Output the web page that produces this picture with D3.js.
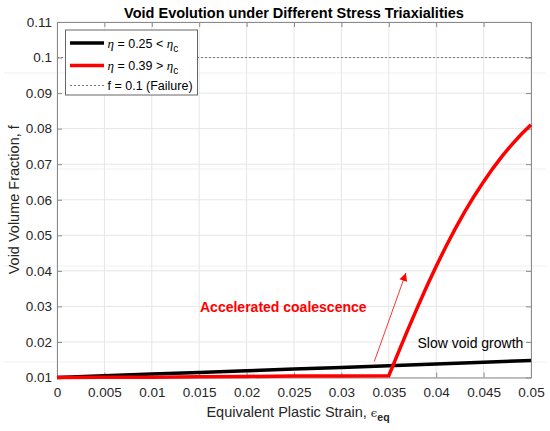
<!DOCTYPE html>
<html>
<head>
<meta charset="utf-8">
<script src="https://cdn.jsdelivr.net/npm/d3@7"></script>
<style>
  body { margin: 0; background: #fff; }
  svg { display: block; font-family: "Liberation Sans", Arial, sans-serif; }
</style>
</head>
<body>
<svg id="chart" width="550" height="431"></svg>
<script>
// data
var strainBlack = [0, 0.005, 0.01, 0.015, 0.02, 0.025, 0.03, 0.035, 0.04, 0.045, 0.05];
var fBlack      = [0.0100, 0.0105, 0.0110, 0.0114, 0.0119, 0.0124, 0.0128, 0.0133, 0.0138, 0.0143, 0.0148];

var strainRed = [0, 0.005, 0.01, 0.015, 0.02, 0.025, 0.03, 0.035,
                 0.036, 0.037, 0.038, 0.039, 0.040, 0.041, 0.042, 0.043,
                 0.044, 0.045, 0.046, 0.047, 0.048, 0.049, 0.050];
var fRed      = [0.0100, 0.0101, 0.0101, 0.0102, 0.0103, 0.0104, 0.0104, 0.0105,
                 0.0170, 0.0234, 0.0296, 0.0356, 0.0413, 0.0467, 0.0518, 0.0566,
                 0.0610, 0.0651, 0.0689, 0.0724, 0.0756, 0.0785, 0.0811];

var failureF = 0.1;

var xTicks = [0, 0.005, 0.01, 0.015, 0.02, 0.025, 0.03, 0.035, 0.04, 0.045, 0.05];
var xTickLabels = ["0", "0.005", "0.01", "0.015", "0.02", "0.025", "0.03", "0.035", "0.04", "0.045", "0.05"];
var yTicks = [0.01, 0.02, 0.03, 0.04, 0.05, 0.06, 0.07, 0.08, 0.09, 0.1, 0.11];
var yTickLabels = ["0.01", "0.02", "0.03", "0.04", "0.05", "0.06", "0.07", "0.08", "0.09", "0.1", "0.11"];

// arrow from / to, in data units
var arrowFrom = [0.03347, 0.0145];
var arrowTo   = [0.03681, 0.0394];

var svg = d3.select("#chart"),
    W = 550, H = 431,
    m = {left: 57, right: 19, top: 22, bottom: 53.5},
    w = W - m.left - m.right,
    h = H - m.top - m.bottom;

// faint stray lines seen across the figure
[73, 169, 266, 362].forEach(function(yy){
    svg.append("line").attr("x1", 4).attr("x2", 546).attr("y1", yy).attr("y2", yy)
        .attr("stroke", "#f0f0f0").attr("stroke-width", 1);
});

var g = svg.append("g").attr("transform", "translate(" + m.left + "," + m.top + ")");

var x = d3.scaleLinear().domain([0, 0.05]).range([0, w]);
var y = d3.scaleLinear().domain([0.01, 0.11]).range([h, 0]);

// grid
g.append("g").selectAll("line").data(xTicks).enter().append("line")
    .attr("x1", function(d){ return x(d); }).attr("x2", function(d){ return x(d); })
    .attr("y1", 0).attr("y2", h)
    .attr("stroke", "#e6e6e6").attr("stroke-width", 1);
g.append("g").selectAll("line").data(yTicks).enter().append("line")
    .attr("y1", function(d){ return y(d); }).attr("y2", function(d){ return y(d); })
    .attr("x1", 0).attr("x2", w)
    .attr("stroke", "#e6e6e6").attr("stroke-width", 1);

// failure line
g.append("line")
    .attr("x1", x(0)).attr("x2", x(0.05))
    .attr("y1", y(failureF)).attr("y2", y(failureF))
    .attr("stroke", "#7a7a7a").attr("stroke-width", 1).attr("stroke-dasharray", "2,2");

// axes (ticks pointing inward, box on all sides)
function styleAxis(sel){
    sel.select(".domain").attr("stroke", "#8a8a8a").attr("stroke-width", 1);
    sel.selectAll(".tick line").attr("stroke", "#8a8a8a");
    sel.selectAll(".tick text").attr("fill", "#262626").style("font-size", "13.5px");
}
g.append("g").attr("transform", "translate(0," + h + ")")
    .call(d3.axisBottom(x).tickValues(xTicks).tickSizeInner(-5).tickSizeOuter(0).tickPadding(10)
        .tickFormat(function(d, i){ return xTickLabels[i]; }))
    .call(styleAxis);
g.append("g")
    .call(d3.axisLeft(y).tickValues(yTicks).tickSizeInner(-5).tickSizeOuter(0).tickPadding(5)
        .tickFormat(function(d, i){ return yTickLabels[i]; }))
    .call(styleAxis);
g.append("g")
    .call(d3.axisTop(x).tickValues(xTicks).tickSizeInner(-5).tickSizeOuter(0).tickFormat(""))
    .call(styleAxis);
g.append("g").attr("transform", "translate(" + w + ",0)")
    .call(d3.axisRight(y).tickValues(yTicks).tickSizeInner(-5).tickSizeOuter(0).tickFormat(""))
    .call(styleAxis);

// curves
var line = d3.line()
    .x(function(d){ return x(d[0]); })
    .y(function(d){ return y(d[1]); });

g.append("path")
    .datum(d3.zip(strainBlack, fBlack))
    .attr("d", line)
    .attr("fill", "none").attr("stroke", "#000").attr("stroke-width", 3.5);

g.append("path")
    .datum(d3.zip(strainRed, fRed))
    .attr("d", line)
    .attr("fill", "none").attr("stroke", "#ff0000").attr("stroke-width", 3.5)
    .attr("stroke-linejoin", "miter");

// arrow
svg.append("defs").append("marker")
    .attr("id", "head").attr("viewBox", "0 0 10 10")
    .attr("refX", 10).attr("refY", 5)
    .attr("markerWidth", 11).attr("markerHeight", 8)
    .attr("markerUnits", "userSpaceOnUse")
    .attr("orient", "auto")
    .append("path").attr("d", "M0,0 L10,5 L0,10 Z").attr("fill", "#ff0000");

g.append("line")
    .attr("x1", x(arrowFrom[0])).attr("y1", y(arrowFrom[1]))
    .attr("x2", x(arrowTo[0])).attr("y2", y(arrowTo[1]))
    .attr("stroke", "#ff0000").attr("stroke-width", 0.8)
    .attr("marker-end", "url(#head)");

// annotations
g.append("text")
    .attr("x", 200 - m.left).attr("y", 311.5 - m.top)
    .attr("fill", "#ff0000").style("font-size", "14px").style("font-weight", "bold")
    .text("Accelerated coalescence");
g.append("text")
    .attr("x", 417.5 - m.left).attr("y", 347.5 - m.top)
    .attr("fill", "#000").style("font-size", "14px")
    .text("Slow void growth");

// title
svg.append("text")
    .attr("x", m.left + w / 2).attr("y", 17.5)
    .attr("text-anchor", "middle")
    .style("font-size", "14.5px").style("font-weight", "bold").attr("fill", "#000")
    .text("Void Evolution under Different Stress Triaxialities");

// x label
var xl = svg.append("text")
    .attr("x", m.left + w / 2 + 4).attr("y", 416.5)
    .attr("text-anchor", "middle")
    .attr("fill", "#262626").style("font-size", "14.5px");
xl.append("tspan").text("Equivalent Plastic Strain, ");
xl.append("tspan").style("font-size", "11.5px").style("font-family", "'DejaVu Serif', serif").text("\u03f5");
xl.append("tspan").attr("dy", 4).style("font-size", "10.5px").style("font-weight", "bold").text("eq");

// y label
svg.append("text")
    .attr("transform", "translate(19," + (m.top + h / 2) + ") rotate(-90)")
    .attr("text-anchor", "middle")
    .attr("fill", "#262626").style("font-size", "14.5px")
    .text("Void Volume Fraction, f");

// legend
var lg = svg.append("g");
lg.append("rect")
    .attr("x", 65.5).attr("y", 30).attr("width", 132).attr("height", 65)
    .attr("fill", "#fff").attr("stroke", "#666").attr("stroke-width", 1);

var legendItems = [
    {color: "#000", width: 3.5, dash: null, eta: "0.25 < ", y: 43},
    {color: "#ff0000", width: 3.5, dash: null, eta: "0.39 > ", y: 65.5},
    {color: "#7a7a7a", width: 1, dash: "2,2", text: "f = 0.1 (Failure)", y: 85.5}
];
legendItems.forEach(function(it){
    lg.append("line")
        .attr("x1", 70).attr("x2", 104).attr("y1", it.y).attr("y2", it.y)
        .attr("stroke", it.color).attr("stroke-width", it.width)
        .attr("stroke-dasharray", it.dash);
    var t = lg.append("text").attr("x", 107.5).attr("y", it.y + 4.5)
        .attr("fill", "#000").style("font-size", "12.5px");
    if (it.text) {
        t.text(it.text);
    } else {
        t.append("tspan").style("font-family", "'Liberation Serif', serif").style("font-style", "italic")
            .style("font-size", "13px").text("\u03b7");
        t.append("tspan").text(" = " + it.eta);
        t.append("tspan").style("font-family", "'Liberation Serif', serif").style("font-style", "italic")
            .style("font-size", "13px").text("\u03b7");
        t.append("tspan").attr("dy", 4).style("font-size", "10px").text("c");
    }
});
</script>
</body>
</html>
